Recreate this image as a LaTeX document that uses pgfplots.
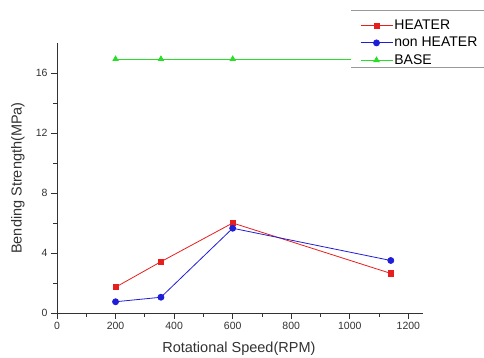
\documentclass[border=0pt]{standalone}
\usepackage{fontspec}
\setmainfont{Liberation Sans}
\usepackage{pgfplots}
\pgfplotsset{compat=1.18}
\definecolor{cred}{RGB}{232,30,30}
\definecolor{cblue}{RGB}{30,30,215}
\definecolor{cgreen}{RGB}{40,222,40}
\definecolor{caxis}{RGB}{50,50,50}
\begin{document}
\begin{tikzpicture}
\useasboundingbox (0pt,0pt) rectangle (484pt,358pt);
\begin{axis}[
  at={(57pt,45pt)}, anchor=south west,
  width=366pt, height=270pt, scale only axis,
  xmin=0, xmax=1250, ymin=0, ymax=18,
  axis lines*=left,
  axis line style={caxis, line width=0.9pt},
  xtick={0,200,...,1200}, ytick={0,4,...,16},
  minor xtick={100,300,...,1100}, minor ytick={2,6,10,14},
  xtick pos=bottom, ytick pos=left,
  tick align=outside,
  major tick length=6pt, minor tick length=4pt,
  tick style={draw=caxis, line width=0.8pt},
  /pgf/number format/assume math mode=true,
  /pgf/number format/1000 sep={},
  tick label style={font=\fontsize{10.5}{12}\selectfont, text=caxis},
  xlabel={Rotational Speed(RPM)},
  ylabel={Bending Strength(MPa)},
  label style={font=\fontsize{14.5}{16}\selectfont, text=caxis},
  xlabel style={at={(axis description cs:0.497,-0.133)}, anchor=center},
  ylabel style={at={(axis description cs:-0.1066,0.5)}, anchor=center},
  legend style={at={(axis description cs:0.803,1.1185)}, anchor=north west,
    draw=none, fill=white, font=\fontsize{14}{16}\selectfont,
    inner xsep=9pt, inner ysep=7.5pt, row sep=3pt,
    nodes={inner sep=1.5pt}},
  legend cell align=left,
  legend image code/.code={\draw[mark repeat=2,mark phase=2,#1] plot coordinates {(0pt,0pt) (16pt,0pt) (32pt,0pt)};},
]
\addplot[cred, line width=0.8pt, mark=square*, mark size=2.6pt, mark options={solid}] coordinates {
 (200,1.72) (355,3.42) (600,6.0) (1140,2.64)};
\addlegendentry{HEATER}
\addplot[cblue, line width=0.8pt, mark=*, mark size=3pt] coordinates {
 (200,0.75) (355,1.05) (600,5.65) (1140,3.5)};
\addlegendentry{non HEATER}
\addplot[cgreen, line width=0.8pt, mark=triangle*, mark size=3pt] coordinates {
 (200,16.93) (355,16.93) (600,16.93) (1140,16.93)};
\addlegendentry{BASE}
\end{axis}
\draw[gray!80, line width=1pt] (351pt,347pt) -- (484pt,347pt);
\draw[gray!80, line width=1pt] (351pt,290pt) -- (484pt,290pt);
\end{tikzpicture}
\end{document}
